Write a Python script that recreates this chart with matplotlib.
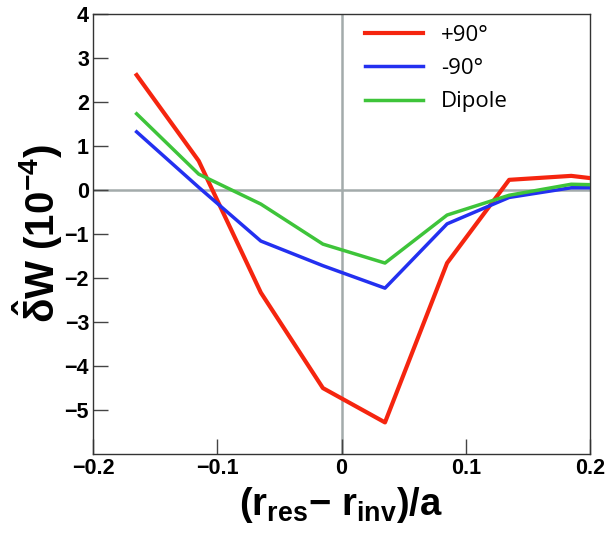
import numpy as np
import matplotlib.pyplot as plt
from matplotlib import rc

rc('font', family='Liberation Sans', weight='bold')
plt.rcParams.update({'mathtext.fontset': 'custom',
                     'mathtext.rm': 'Liberation Sans:bold',
                     'mathtext.it': 'Liberation Sans:bold',
                     'mathtext.bf': 'Liberation Sans:bold'})

# x positions of the scan (r_res - r_inv)/a
x = [-0.165, -0.115, -0.065, -0.015, 0.035, 0.085, 0.135, 0.185, 0.2]
# delta W hat (units of 1e-4)
w_plus90 = [2.61, 0.66, -2.33, -4.50, -5.28, -1.66, 0.23, 0.32, 0.27]
w_minus90 = [1.32, 0.06, -1.16, -1.72, -2.23, -0.77, -0.17, 0.05, 0.05]
w_dipole = [1.73, 0.36, -0.32, -1.23, -1.66, -0.57, -0.12, 0.13, 0.12]

xticks = [-0.2, -0.1, 0, 0.1, 0.2]
xticklabels = ['\u22120.2', '\u22120.1', '0', '0.1', '0.2']
yticks = [-5, -4, -3, -2, -1, 0, 1, 2, 3, 4]

fig = plt.figure(figsize=(6.05, 5.33), dpi=100)
ax = fig.add_axes([0.154, 0.148, 0.821, 0.826])

# reference lines through the origin
ax.axhline(0, color='#a3abab', lw=1.8, zorder=1)
ax.axvline(0, color='#a3abab', lw=1.8, zorder=1)

ax.plot(x, w_plus90, color='#f5250f', lw=3.0, label='+90\u00b0', zorder=3)
ax.plot(x, w_minus90, color='#2330f0', lw=2.5, label='-90\u00b0', zorder=3)
ax.plot(x, w_dipole, color='#3ec43a', lw=2.5, label='Dipole', zorder=3)

ax.set_xlim(-0.2, 0.2)
ax.set_ylim(-6, 4)
ax.set_xticks(xticks)
ax.set_xticklabels(xticklabels)
ax.set_yticks(yticks)
ax.tick_params(direction='in', length=11, width=1, color='#444444', labelsize=15.5, pad=3)
for s in ax.spines.values():
    s.set_color('#333333')
    s.set_linewidth(1)

ax.set_xlabel(r'(r$_{res}$$-$ r$_{inv}$)/a', fontsize=27.5, fontweight='bold', labelpad=4)
ax.set_ylabel(r'$\hat{\delta}$W (10$^{-4}$)', fontsize=29, fontweight='bold', labelpad=0)

leg = ax.legend(loc='upper left', bbox_to_anchor=(0.53, 0.995), frameon=False,
                handlelength=2.6, handletextpad=0.8, labelspacing=0.55, borderaxespad=0,
                prop={'family': 'Open Sans', 'weight': 'normal', 'size': 16})

plt.savefig('out.png', dpi=100)
